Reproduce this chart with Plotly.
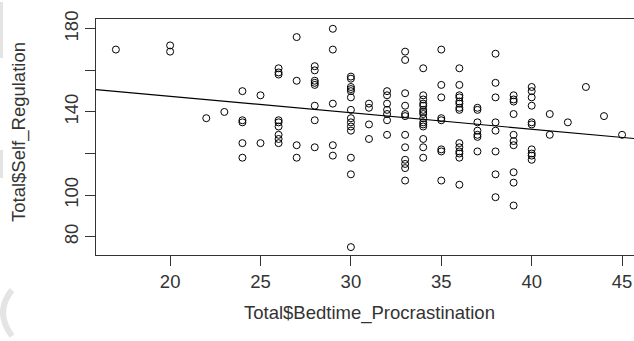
import numpy as np
import plotly.graph_objects as go

# Bedtime procrastination score (x) and self-regulation score (y)
bedtime = [
    17,
    20, 20,
    22,
    23,
    24, 24, 24, 24, 24,
    25, 25,
    26, 26, 26, 26, 26, 26, 26, 26, 26,
    27, 27, 27, 27,
    28, 28, 28, 28, 28, 28, 28, 28,
    29, 29, 29, 29, 29,
    30, 30, 30, 30, 30, 30, 30, 30, 30, 30, 30, 30, 30, 30,
    31, 31, 31, 31,
    32, 32, 32, 32, 32, 32, 32,
    33, 33, 33, 33, 33, 33, 33, 33, 33, 33, 33, 33,
    34, 34, 34, 34, 34, 34, 34, 34, 34, 34, 34, 34, 34, 34, 34,
    35, 35, 35, 35, 35, 35, 35, 35,
    36, 36, 36, 36, 36, 36, 36, 36, 36, 36, 36, 36, 36, 36,
    37, 37, 37, 37, 37, 37, 37,
    38, 38, 38, 38, 38, 38, 38, 38,
    39, 39, 39, 39, 39, 39, 39, 39, 39, 39,
    40, 40, 40, 40, 40, 40, 40, 40, 40, 40,
    41, 41,
    42,
    43,
    44,
    45,
]

self_regulation = [
    170,
    172, 169,
    137,
    140,
    150, 136, 135, 125, 118,
    148, 125,
    161, 159, 158, 136, 135, 133, 129, 127, 125,
    176, 155, 124, 118,
    162, 160, 155, 154, 153, 143, 136, 123,
    180, 170, 144, 124, 119,
    157, 156, 152, 151, 150, 147, 141, 137, 135, 133, 131, 118, 110, 75,
    144, 142, 134, 127,
    150, 148, 144, 141, 139, 136, 129,
    169, 165, 149, 143, 139, 138, 129, 123, 117, 115, 113, 107,
    161, 148, 146, 144, 143, 141, 140, 139, 137, 135, 134, 133, 127, 123, 118,
    170, 153, 147, 137, 136, 122, 121, 107,
    161, 153, 148, 147, 145, 144, 142, 141, 125, 123, 121, 120, 118, 105,
    142, 141, 135, 131, 129, 128, 121,
    168, 154, 147, 135, 131, 121, 110, 99,
    148, 146, 145, 139, 129, 126, 124, 111, 106, 95,
    152, 150, 147, 143, 135, 134, 122, 120, 119, 117,
    139, 129,
    135,
    152,
    138,
    129,
]

x_ticks = [20, 25, 30, 35, 40, 45]
x_ticklabels = ["20", "25", "30", "35", "40", "45"]
y_ticks = [80, 100, 120, 140, 160, 180]
y_ticklabels = ["80", "100", "", "140", "", "180"]

x_title = "Total$Bedtime_Procrastination"
y_title = "Total$Self_Regulation"

X_RANGE = [15.9, 45.66]
Y_RANGE = [71.2, 184.7]

FONT = "Liberation Sans, Arial, sans-serif"
INK = "#333333"
FS = 18.5

# figure geometry (pixels) used to place the faint edge marks
W, H = 634, 341
ML, MR, MT, MB = 96, 0, 19, 86
PW, PH = W - ML - MR, H - MT - MB


def px(xp):
    return (xp - ML) / PW


def py(yp):
    return (H - MB - yp) / PH


slope, intercept = np.polyfit(bedtime, self_regulation, 1)

fig = go.Figure()
fig.add_trace(go.Scatter(
    x=bedtime, y=self_regulation, mode="markers",
    marker=dict(symbol="circle-open", size=7, color="black", line=dict(width=1, color="black")),
    showlegend=False, hoverinfo="skip",
))
fig.add_trace(go.Scatter(
    x=X_RANGE, y=[intercept + slope * v for v in X_RANGE], mode="lines",
    line=dict(color="black", width=1.2), showlegend=False, hoverinfo="skip",
))

WM = "#e4e4e4"
shapes = [
    dict(type="rect", xref="paper", yref="paper", x0=px(0), x1=px(3), y0=py(58), y1=py(2),
         fillcolor=WM, line=dict(width=0), layer="below"),
    dict(type="rect", xref="paper", yref="paper", x0=px(0), x1=px(3), y0=py(178), y1=py(150),
         fillcolor=WM, line=dict(width=0), layer="below"),
    dict(type="path", xref="paper", yref="paper",
         path=f"M {px(12)} {py(290)} Q {px(-6)} {py(312)} {px(12)} {py(336)}",
         line=dict(color=WM, width=6), layer="below"),
]

fig.update_layout(
    width=W, height=H,
    margin=dict(l=ML, r=MR, t=MT, b=MB, autoexpand=False),
    paper_bgcolor="white", plot_bgcolor="white",
    font=dict(family=FONT, size=FS, color=INK),
    hovermode=False,
    xaxis=dict(
        range=X_RANGE, tickvals=x_ticks, ticktext=x_ticklabels,
        ticks="outside", ticklen=10, tickwidth=1, tickcolor=INK,
        showline=True, mirror=True, linecolor=INK, linewidth=1,
        showgrid=False, zeroline=False, tickfont=dict(size=FS, color=INK),
    ),
    yaxis=dict(
        range=Y_RANGE, tickvals=y_ticks, ticktext=y_ticklabels, tickangle=-90,
        ticks="outside", ticklen=10, tickwidth=1, tickcolor=INK,
        showline=True, mirror=False, linecolor=INK, linewidth=1,
        showgrid=False, zeroline=False, tickfont=dict(size=FS, color=INK),
    ),
    shapes=shapes,
    annotations=[
        dict(text=x_title, xref="paper", yref="paper", x=px(369), y=py(313),
             xanchor="center", yanchor="middle", showarrow=False,
             font=dict(size=FS, color=INK, family=FONT)),
        dict(text=y_title, xref="paper", yref="paper", x=px(19), y=py(132),
             xanchor="center", yanchor="middle", showarrow=False, textangle=-90,
             font=dict(size=FS, color=INK, family=FONT)),
    ],
)

fig.write_html("out.html", config={"displayModeBar": False, "staticPlot": True})

# remove the browser's default page margin so the figure sits at the window's corner
with open("out.html", encoding="utf-8") as f:
    html = f.read()
html = html.replace("<head>", "<head><style>html,body{margin:0;padding:0;overflow:hidden;}</style>", 1)
with open("out.html", "w", encoding="utf-8") as f:
    f.write(html)
